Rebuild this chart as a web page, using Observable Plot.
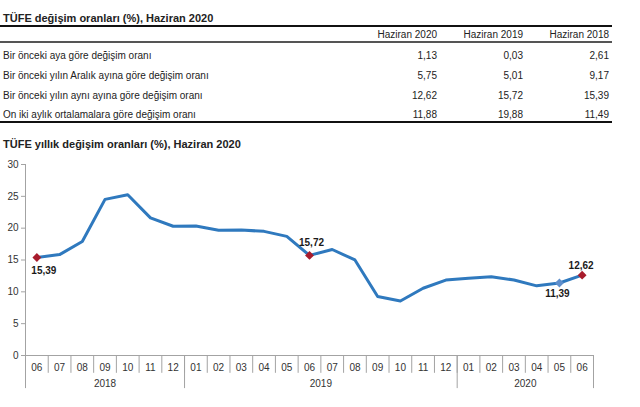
<!DOCTYPE html>
<html>
<head>
<meta charset="utf-8">
<script src="https://cdn.jsdelivr.net/npm/d3@7"></script>
<script src="https://cdn.jsdelivr.net/npm/@observablehq/plot@0.6"></script>
<style>
  body { margin: 0; background: #fff; font-family: "Liberation Sans", Arial, sans-serif; color: #1a1a1a; }
  #page { position: relative; width: 640px; height: 407px; overflow: hidden; }
  .abs { position: absolute; white-space: nowrap; }
  .title { left: 3px; font-weight: bold; font-size: 11px; line-height: 13px; color: #222; }
  .cell { font-size: 10px; line-height: 12px; color: #222; }
  .num { text-align: right; width: 90px; }
  .rule { position: absolute; left: 0; width: 612px; }
  #chart { position: absolute; left: 0; top: 155px; }
</style>
</head>
<body>
<div id="page">
  <div class="abs title" style="top:12px">TÜFE değişim oranları (%), Haziran 2020</div>
  <div id="table"></div>
  <div class="abs title" style="top:138px">TÜFE yıllık değişim oranları (%), Haziran 2020</div>
  <div id="chart"></div>
</div>
<script>
// Summary table
const tableColumns = ["Haziran 2020", "Haziran 2019", "Haziran 2018"];
const tableRows = [
  "Bir önceki aya göre değişim oranı",
  "Bir önceki yılın Aralık ayına göre değişim oranı",
  "Bir önceki yılın aynı ayına göre değişim oranı",
  "On iki aylık ortalamalara göre değişim oranı"
];
const values2020 = [1.13, 5.75, 12.62, 11.88];
const values2019 = [0.03, 5.01, 15.72, 19.88];
const values2018 = [2.61, 9.17, 15.39, 11.49];

// Annual CPI change, June 2018 – June 2020
const months = ["06","07","08","09","10","11","12",
                "01","02","03","04","05","06","07","08","09","10","11","12",
                "01","02","03","04","05","06"];
const years = ["2018", "2019", "2020"];
const yearFirstMonth = [0, 7, 19];
const yearLastMonth = [6, 18, 24];
const annualChange = [15.39, 15.85, 17.90, 24.52, 25.24, 21.62, 20.30,
                      20.35, 19.67, 19.71, 19.50, 18.71, 15.72, 16.65, 15.01, 9.26, 8.55, 10.56, 11.84,
                      12.15, 12.37, 11.86, 10.94, 11.39, 12.62];
const yTicks = [0, 5, 10, 15, 20, 25, 30];

const fmt = v => v.toFixed(2).replace(".", ",");

// --- table ---
const table = document.getElementById("table");
const add = (html, cls, style) => {
  const el = document.createElement("div");
  el.className = cls;
  el.style.cssText = style;
  el.textContent = html;
  table.appendChild(el);
};
add("", "rule", "top:25px;height:2px;background:#111");
add("", "rule", "top:41px;height:1.5px;background:#555");
add("", "rule", "top:121px;height:2px;background:#111");
const rightEdges = [437, 523, 609];
tableColumns.forEach((c, j) => add(c, "abs cell num", `top:29px;left:${rightEdges[j] - 90}px`));
const rowTops = [50, 70, 90, 109];
const colValues = [values2020, values2019, values2018];
tableRows.forEach((r, i) => {
  add(r, "abs cell", `top:${rowTops[i]}px;left:3px`);
  colValues.forEach((vals, j) => add(fmt(vals[i]), "abs cell num", `top:${rowTops[i]}px;left:${rightEdges[j] - 90}px`));
});

// --- chart ---
const series = annualChange.map((v, i) => ({i, v}));
const juneIdx = [0, 12, 24];
const axisGray = "#a3a3a3";
const lineBlue = "#2f79be";
const red = "#a81c2c";
const lightBlue = "#5f8fcc";

const label = (idx, dx, dy) => Plot.text([series[idx]], {
  x: "i", y: "v", text: d => fmt(d.v), dx, dy,
  fontWeight: "bold", fontSize: 10, fill: "#1a1a1a"
});

const chart = Plot.plot({
  width: 640,
  height: 252,
  marginLeft: 25,
  marginRight: 47,
  marginTop: 9,
  marginBottom: 52,
  style: { fontFamily: "Liberation Sans, Arial, sans-serif", fontSize: "10px", background: "transparent" },
  x: { domain: [-0.5, 24.5], axis: null },
  y: { domain: [0, 30] },
  marks: [
    Plot.axisY({ ticks: yTicks, tickSize: 4, tickPadding: 3, stroke: axisGray, fill: "#333", label: null, fontSize: 10 }),
    // left axis line, running down past the year row
    Plot.ruleX([-0.5], { y1: -5.2, y2: 30, stroke: axisGray }),
    Plot.ruleY([0], { stroke: axisGray }),
    // month cell separators
    Plot.ruleX(d3.range(24).map(i => i + 0.5), { y1: 0, y2: -2.8, stroke: axisGray }),
    // year separators
    Plot.ruleX(yearLastMonth.map(i => i + 0.5), { y1: 0, y2: -5.2, stroke: axisGray }),
    Plot.text(months, { x: (d, i) => i, y: 0, dy: 12, text: d => d, fill: "#333", fontSize: 10 }),
    Plot.text(years, { x: (d, i) => (yearFirstMonth[i] + yearLastMonth[i]) / 2, y: 0, dy: 28, text: d => d, fill: "#333", fontSize: 10 }),
    Plot.line(series, { x: "i", y: "v", stroke: lineBlue, strokeWidth: 3, strokeLinejoin: "round" }),
    Plot.dot([series[23]], { x: "i", y: "v", symbol: "diamond2", r: 4, fill: lightBlue }),
    Plot.dot(juneIdx.map(i => series[i]), { x: "i", y: "v", symbol: "diamond2", r: 4, fill: red }),
    label(0, 7, 13),
    label(12, 2, -13),
    label(23, -2, 11),
    label(24, -1, -9)
  ]
});
document.getElementById("chart").appendChild(chart);
</script>
</body>
</html>
